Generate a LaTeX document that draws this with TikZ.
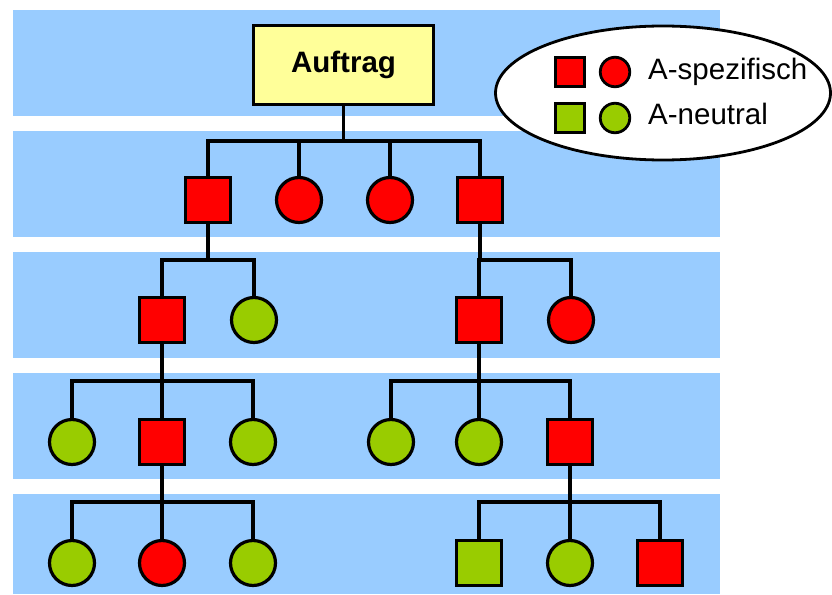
\documentclass[tikz,border=0pt]{standalone}
\usepackage{fontspec}
\setmainfont{Liberation Sans}
\usetikzlibrary{shapes.geometric}
\definecolor{bandblue}{HTML}{99CCFF}
\definecolor{specred}{HTML}{FF0000}
\definecolor{neutgreen}{HTML}{99CC00}
\definecolor{boxyellow}{HTML}{FFFF99}
\tikzset{
  band/.style={fill=bandblue, draw=none},
  sq/.style={rectangle, draw=black, line width=3.2pt, minimum size=45pt, inner sep=0pt},
  ci/.style={circle, draw=black, line width=3.2pt, minimum size=45pt, inner sep=0pt},
  lsq/.style={rectangle, draw=black, line width=2.8pt, minimum size=29.5pt, inner sep=0pt},
  lci/.style={circle, draw=black, line width=2.8pt, minimum size=29.5pt, inner sep=0pt},
  red/.style={fill=specred},
  grn/.style={fill=neutgreen},
  conn/.style={draw=black, line width=3.2pt},
  legtext/.style={anchor=base west, inner sep=0pt, font=\fontsize{29.5}{34}\selectfont}
}
\begin{document}
\begin{tikzpicture}[x=1pt,y=-1pt]
\useasboundingbox (0,0) rectangle (832,594);
% bands
\fill[band] (13,10) rectangle (720,116);
\fill[band] (13,131) rectangle (720,237);
\fill[band] (13,252) rectangle (720,358);
\fill[band] (13,373) rectangle (720,479);
\fill[band] (13,494) rectangle (720,594);
% legend
\node[ellipse, draw=black, line width=2.8pt, fill=white, minimum width=335pt, minimum height=134pt, inner sep=0pt] (legend) at (663,93) {};
\node[lsq, red] (lrs) at (570,72) {};
\node[lci, red] (lrc) at (615,72) {};
\node[lsq, grn] (lgs) at (570,118) {};
\node[lci, grn] (lgc) at (615,118) {};
\node[legtext] (lt1) at (648,79) {A-spezifisch};
\node[legtext] (lt2) at (648,124) {A-neutral};
% root
\node[rectangle, draw=black, line width=3.2pt, fill=boxyellow, minimum width=180pt, minimum height=79pt, inner sep=0pt, font=\fontsize{29.5}{34}\selectfont\bfseries] (root) at (343.5,65) {Auftrag};
% level 1
\node[sq, red] (a1) at (208,200) {};
\node[ci, red] (a2) at (299,200) {};
\node[ci, red] (a3) at (390,200) {};
\node[sq, red] (a4) at (480,200) {};
% level 2
\node[sq, red] (b1) at (162,320) {};
\node[ci, grn] (b2) at (254,320) {};
\node[sq, red] (b3) at (479,320) {};
\node[ci, red] (b4) at (571,320) {};
% level 3
\node[ci, grn] (c1) at (72,442) {};
\node[sq, red] (c2) at (162,442) {};
\node[ci, grn] (c3) at (253,442) {};
\node[ci, grn] (c4) at (391,442) {};
\node[ci, grn] (c5) at (479,442) {};
\node[sq, red] (c6) at (570,442) {};
% level 4
\node[ci, grn] (d1) at (72,563) {};
\node[ci, red] (d2) at (162,563) {};
\node[ci, grn] (d3) at (253,563) {};
\node[sq, grn] (d4) at (479,563) {};
\node[ci, grn] (d5) at (570,563) {};
\node[sq, red] (d6) at (660,563) {};
% bus coordinates
\coordinate (k0) at (root.south |- 0,141);
\coordinate (k1) at (a1.south |- 0,260);
\coordinate (k2) at (a4.south |- 0,260);
\coordinate (k3) at (b1.south |- 0,381);
\coordinate (k4) at (b3.south |- 0,381);
\coordinate (k5) at (c2.south |- 0,502);
\coordinate (k6) at (c6.south |- 0,502);
% connectors
\draw[conn] (root.south) -- (k0);
\draw[conn] (a1.north) |- (k0) -| (a4.north);
\draw[conn] (k0 -| a2.north) -- (a2.north);
\draw[conn] (k0 -| a3.north) -- (a3.north);

\draw[conn] (a1.south) -- (k1);
\draw[conn] (b1.north) |- (k1) -| (b2.north);
\draw[conn] (a4.south) -- (k2);
\draw[conn] (b3.north) |- (k2) -| (b4.north);

\draw[conn] (b1.south) -- (k3);
\draw[conn] (c1.north) |- (k3) -| (c3.north);
\draw[conn] (k3) -- (c2.north);
\draw[conn] (b3.south) -- (k4);
\draw[conn] (c4.north) |- (k4) -| (c6.north);
\draw[conn] (k4) -- (c5.north);

\draw[conn] (c2.south) -- (k5);
\draw[conn] (d1.north) |- (k5) -| (d3.north);
\draw[conn] (k5) -- (d2.north);
\draw[conn] (c6.south) -- (k6);
\draw[conn] (d4.north) |- (k6) -| (d6.north);
\draw[conn] (k6) -- (d5.north);
\end{tikzpicture}
\end{document}
